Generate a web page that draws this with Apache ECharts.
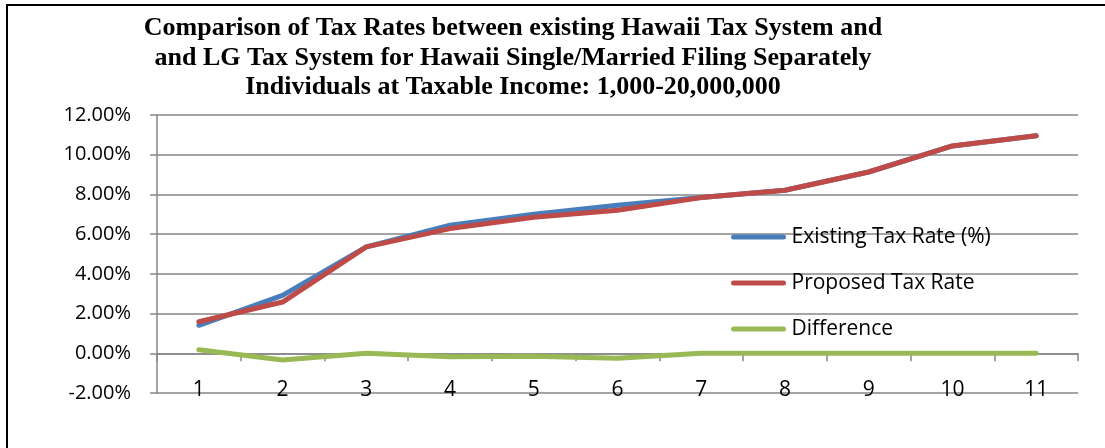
<!DOCTYPE html>
<html>
<head>
<meta charset="utf-8">
<script src="https://cdn.jsdelivr.net/npm/echarts@6/dist/echarts.min.js"></script>
<style>
html,body{margin:0;padding:0;background:#fff;}
#chart{width:1105px;height:448px;}
</style>
</head>
<body>
<div id="chart"></div>
<script>
var titleLines = [
  'Comparison of Tax Rates between existing Hawaii Tax System and',
  'and LG Tax System for Hawaii Single/Married Filing Separately',
  'Individuals at Taxable Income: 1,000-20,000,000'
];
var categories = ['1','2','3','4','5','6','7','8','9','10','11'];
var existingRate = [1.41, 2.92, 5.36, 6.45, 7.00, 7.45, 7.84, 8.21, 9.13, 10.44, 10.95];
var proposedRate = [1.59, 2.58, 5.36, 6.28, 6.85, 7.20, 7.84, 8.21, 9.13, 10.44, 10.95];
var difference   = [0.18, -0.34, 0.00, -0.17, -0.15, -0.25, 0.00, 0.00, 0.00, 0.00, 0.00];
var seriesNames = ['Existing Tax Rate (%)', 'Proposed Tax Rate', 'Difference'];
var yTicks = { min: -2, max: 12, step: 2 };

var chart = echarts.init(document.getElementById('chart'), null, {renderer: 'canvas'});
var axisGray = '#868686';
var lbFont = 'Open Sans';
var pill = 'path://M2.5,0 L52.5,0 A2.5,2.5 0 0 1 52.5,5 L2.5,5 A2.5,2.5 0 0 1 2.5,0 Z';
function mkLine(name, data, color, z) {
  return {
    name: name, type: 'line', data: data, symbol: 'none', z: z,
    lineStyle: { color: color, width: 5, cap: 'round', join: 'round' },
    itemStyle: { color: color },
    emphasis: { disabled: true }
  };
}
chart.setOption({
  animation: false,
  backgroundColor: '#ffffff',
  graphic: [{
    type: 'rect', shape: { x: 7, y: 5, width: 1200, height: 600 },
    style: { fill: 'none', stroke: '#000', lineWidth: 2 }, silent: true, z: 100
  }],
  title: {
    text: titleLines.join('\n'),
    left: 508, top: 9, textAlign: 'center',
    textStyle: { fontFamily: 'Liberation Serif', fontWeight: 'bold', fontSize: 26, lineHeight: 29.5, color: '#000' }
  },
  grid: { left: 157, right: 27, top: 115, bottom: 55, containLabel: false },
  legend: {
    orient: 'vertical', left: 726, top: 220,
    icon: pill,
    itemWidth: 56, itemHeight: 5, itemGap: 22, itemTextGap: 1,
    textStyle: { fontFamily: lbFont, fontSize: 21, color: '#000', lineHeight: 24 },
    data: seriesNames
  },
  xAxis: {
    type: 'category', data: categories, boundaryGap: true,
    axisLine: { onZero: true, lineStyle: { color: axisGray, width: 1.5 } },
    axisTick: { show: true, alignWithLabel: false, length: 8, lineStyle: { color: axisGray, width: 1.5 } },
    axisLabel: { margin: -13, fontFamily: lbFont, fontSize: 21, color: '#000' },
    splitLine: { show: false }
  },
  yAxis: {
    type: 'value', min: yTicks.min, max: yTicks.max, interval: yTicks.step,
    axisLine: { show: true, lineStyle: { color: axisGray, width: 1.5 } },
    axisTick: { show: true, length: 7, lineStyle: { color: axisGray, width: 1.5 } },
    axisLabel: { margin: 26, fontFamily: lbFont, fontSize: 20, color: '#000',
      formatter: function (v) { return v.toFixed(2) + '%'; } },
    splitLine: { show: true, lineStyle: { color: axisGray, width: 1.5 } }
  },
  series: [
    mkLine(seriesNames[0], existingRate, '#4A7EBB', 2),
    mkLine(seriesNames[1], proposedRate, '#BE4B48', 3),
    mkLine(seriesNames[2], difference, '#98B954', 4)
  ]
});
</script>
</body>
</html>
